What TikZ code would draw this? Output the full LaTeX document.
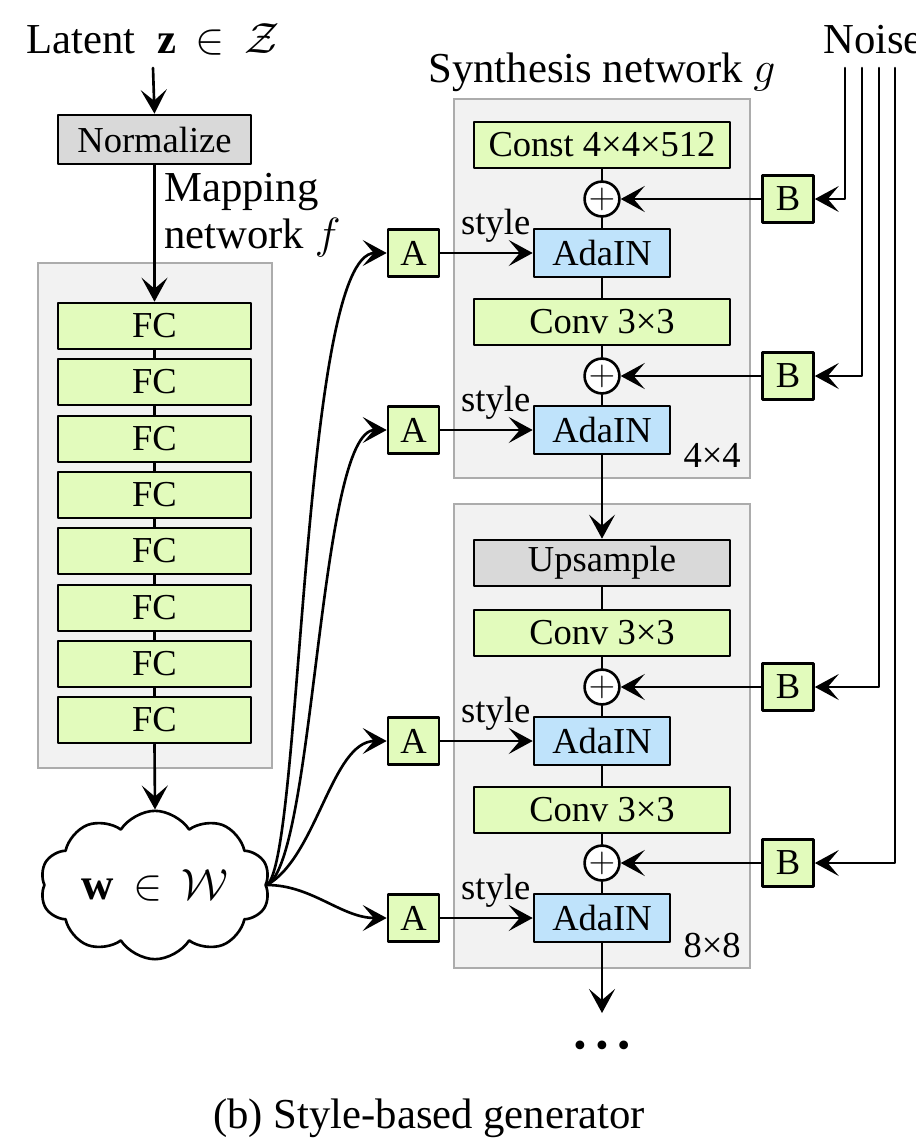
\documentclass[tikz,border=0pt]{standalone}
\usepackage{fontspec}
\setmainfont{LiberationSerif}[Extension=.ttf,UprightFont=*-Regular,BoldFont=*-Bold,ItalicFont=*-Italic,BoldItalicFont=*-BoldItalic]
\usetikzlibrary{arrows.meta,shapes.symbols}
\definecolor{fcgreen}{RGB}{226,251,188}
\definecolor{adablue}{RGB}{191,227,251}
\definecolor{opgray}{RGB}{217,217,217}
\definecolor{framefill}{RGB}{242,242,242}
\definecolor{frameline}{RGB}{172,172,172}

\begin{document}
\begin{tikzpicture}[line cap=round,line join=round,>={Stealth[length=0.48cm,width=0.52cm,inset=0.22cm]},x=0.02cm,y=-0.02cm,line width=1.5pt,
	small/.style={font=\fontsize{20.8}{25}\selectfont},
	big/.style={font=\fontsize{24.3}{26.2}\selectfont},
	block/.style={draw,small,inner sep=0pt,minimum height=0.92cm},
	fcbox/.style={block,fill=fcgreen,minimum width=3.86cm},
	wide/.style={block,fill=fcgreen,minimum width=5.12cm},
	adain/.style={block,fill=adablue,minimum width=2.72cm,minimum height=0.96cm},
	abox/.style={block,fill=fcgreen,minimum width=1.02cm,minimum height=0.94cm},
	plus/.style={draw,circle,fill=white,inner sep=0pt,minimum size=0.66cm,small},
	frame/.style={draw=frameline,fill=framefill,line width=1.2pt,line cap=butt,line join=miter},
	stylelbl/.style={small,above,pos=0.6,inner sep=0.19cm}]
				\useasboundingbox (0,0) rectangle (916,1146);
				\draw [frame] (38,263) rectangle (272,768);
				\draw [frame] (454,99) rectangle (750,478);
				\draw [frame] (454,504) rectangle (750,968);
				\node [big,anchor=base,inner sep=0.24cm] (latent) at (153,53) {Latent\ \ $\mathbf{z}\,\in\,\mathcal{Z}$};
				\node [block,fill=opgray,minimum width=3.86cm,minimum height=0.98cm] (norm) at (154.5,139.5) {Normalize};
				\node [big,anchor=base west,align=left,inner sep=0pt] (maplbl) at (163,248) {Mapping\\network $f$};
				\node [fcbox] (fc1) at (154.5,326) {FC};
				\node [fcbox] (fc2) at (154.5,382) {FC};
				\node [fcbox] (fc3) at (154.5,439) {FC};
				\node [fcbox] (fc4) at (154.5,495) {FC};
				\node [fcbox] (fc5) at (154.5,551) {FC};
				\node [fcbox] (fc6) at (154.5,608) {FC};
				\node [fcbox] (fc7) at (154.5,664) {FC};
				\node [fcbox] (fc8) at (154.5,720) {FC};
				\node [cloud,draw,cloud puffs=10,cloud puff arc=115,aspect=1.75,minimum width=4.6cm,minimum height=2.75cm,inner sep=0pt,font=\fontsize{25.5}{28}\selectfont] (w) at (155,885) {$\mathbf{w}\,\in\,\mathcal{W}$};
				\draw [->] (latent.south) -- (norm.north);
				\draw [->] (norm.south) -- (fc1.north);
				\draw (fc1.south) -- (fc2.north);
				\draw (fc2.south) -- (fc3.north);
				\draw (fc3.south) -- (fc4.north);
				\draw (fc4.south) -- (fc5.north);
				\draw (fc5.south) -- (fc6.north);
				\draw (fc6.south) -- (fc7.north);
				\draw (fc7.south) -- (fc8.north);
				\draw [->] (fc8.south) -- (w.north);
				\node [big,anchor=base] (synlbl) at (602,82) {Synthesis network $g$};
				\node [wide] (const) at (602,145) {Const 4×4×512};
				\node [plus] (plus1) at (602,199) {$+$};
				\node [adain] (ada1) at (602,253) {AdaIN};
				\node [wide] (conv1) at (602,322) {Conv 3×3};
				\node [plus] (plus2) at (602,376) {$+$};
				\node [adain] (ada2) at (602,430) {AdaIN};
				\node [small,anchor=base east,inner sep=0pt] (res1) at (742,467) {4×4};
				\node [block,fill=opgray,minimum width=5.12cm] (ups) at (602,563) {Upsample};
				\node [wide] (conv2) at (602,633) {Conv 3×3};
				\node [plus] (plus3) at (602,687) {$+$};
				\node [adain] (ada3) at (602,741) {AdaIN};
				\node [wide] (conv3) at (602,810) {Conv 3×3};
				\node [plus] (plus4) at (602,863) {$+$};
				\node [adain] (ada4) at (602,918) {AdaIN};
				\node [small,anchor=base east,inner sep=0pt] (res2) at (742,957) {8×8};
				\coordinate (more) at (602,1013);
				\node [small,inner sep=0pt] (dots) at (602,1049) {• • •};
				\draw (const.south) -- (plus1.north);
				\draw (plus1.south) -- (ada1.north);
				\draw (ada1.south) -- (conv1.north);
				\draw (conv1.south) -- (plus2.north);
				\draw (plus2.south) -- (ada2.north);
				\draw [->] (ada2.south) -- (ups.north);
				\draw (ups.south) -- (conv2.north);
				\draw (conv2.south) -- (plus3.north);
				\draw (plus3.south) -- (ada3.north);
				\draw (ada3.south) -- (conv3.north);
				\draw (conv3.south) -- (plus4.north);
				\draw (plus4.south) -- (ada4.north);
				\draw [->] (ada4.south) -- (more);
				\node [abox] (a1) at (413.5,253) {A};
				\node [abox] (a2) at (413.5,430) {A};
				\node [abox] (a3) at (413.5,741) {A};
				\node [abox] (a4) at (413.5,918) {A};
				\draw [->] (a1.east) -- node [stylelbl] {style} (ada1.west);
				\draw [->] (a2.east) -- node [stylelbl] {style} (ada2.west);
				\draw [->] (a3.east) -- node [stylelbl] {style} (ada3.west);
				\draw [->] (a4.east) -- node [stylelbl] {style} (ada4.west);
				\draw [->] (w.east) .. controls +(35,-25) and +(-85,0) .. (a1.west);
				\draw [->] (w.east) .. controls +(48,-25) and +(-68,0) .. (a2.west);
				\draw [->] (w.east) .. controls +(50,-28) and +(-55,0) .. (a3.west);
				\draw [->] (w.east) .. controls +(45,0) and +(-45,0) .. (a4.west);
				\node [big,anchor=base west,inner sep=0pt] (noise) at (822,53) {Noise};
				\coordinate (n1) at (845,68);
				\coordinate (n2) at (862,68);
				\coordinate (n3) at (879,68);
				\coordinate (n4) at (895,68);
				\node [abox] (b1) at (788,199) {B};
				\node [abox] (b2) at (788,376) {B};
				\node [abox] (b3) at (788,687) {B};
				\node [abox] (b4) at (788,863) {B};
				\draw [->] (n1) |- (b1.east);
				\draw [->] (n2) |- (b2.east);
				\draw [->] (n3) |- (b3.east);
				\draw [->] (n4) |- (b4.east);
				\draw [->] (b1.west) -- (plus1.east);
				\draw [->] (b2.west) -- (plus2.east);
				\draw [->] (b3.west) -- (plus3.east);
				\draw [->] (b4.west) -- (plus4.east);
				\node [big,anchor=base] (caption) at (429,1128) {(b) Style-based generator};
			\end{tikzpicture}
\end{document}
